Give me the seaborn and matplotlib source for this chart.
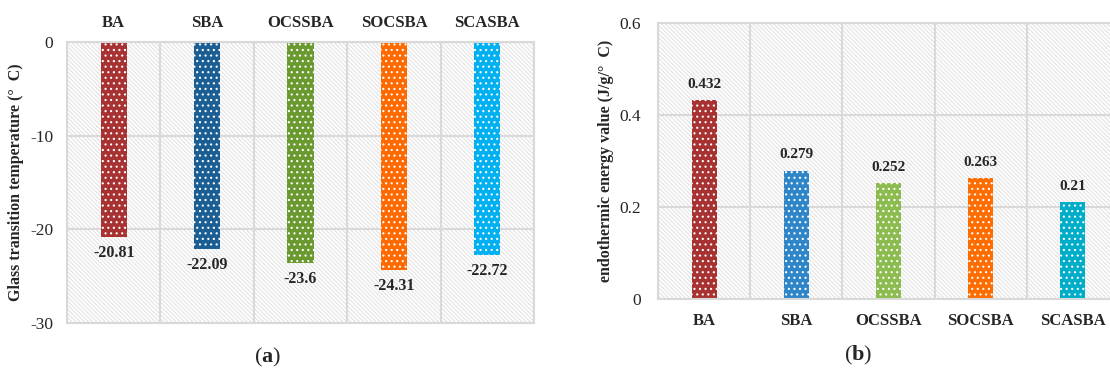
import matplotlib
matplotlib.use("Agg")
import matplotlib.pyplot as plt
import seaborn as sns
import pandas as pd
import numpy as np

samples = ["BA", "SBA", "OCSSBA", "SOCSBA", "SCASBA"]
tg_values = [-20.81, -22.09, -23.6, -24.31, -22.72]
tg_labels = ["-20.81", "-22.09", "-23.6", "-24.31", "-22.72"]
energy_values = [0.432, 0.279, 0.252, 0.263, 0.21]
energy_labels = ["0.432", "0.279", "0.252", "0.263", "0.21"]

colors_a = ["#a83232", "#1b5e94", "#6a9a2f", "#ff6a00", "#00b0f0"]
colors_b = ["#a83232", "#2e86c8", "#8cbc4f", "#ff6d00", "#00adc9"]

sns.set_style("white")
plt.rcParams["font.family"] = ["Liberation Serif", "DejaVu Serif"]
plt.rcParams["axes.unicode_minus"] = False
plt.rcParams["hatch.linewidth"] = 0.8
plt.rcParams["mathtext.fontset"] = "custom"
plt.rcParams["mathtext.bf"] = "Liberation Serif:bold"
plt.rcParams["mathtext.rm"] = "Liberation Serif"

GRID = "#d9d9d9"


def style_axes(ax):
    ax.patch.set_facecolor("white")
    ax.patch.set_hatch("\\\\\\\\\\\\\\\\")
    ax.patch.set_edgecolor("#e2e2e2")
    ax.set_xticks(np.arange(-0.5, 5, 1), minor=True)
    ax.grid(True, which="minor", axis="x", color=GRID, lw=1.5)
    ax.grid(True, which="major", axis="y", color=GRID, lw=1.5)
    ax.set_axisbelow(True)
    for s in ax.spines.values():
        s.set_color(GRID)
        s.set_linewidth(1.5)
    ax.tick_params(which="both", length=0)
    ax.set_xlim(-0.5, 4.5)
    ax.set_xlabel("")


def dot_bars(ax, colors):
    for p, c in zip(ax.patches, colors):
        p.set_facecolor(c)
        p.set_edgecolor("white")
        p.set_linewidth(0)
        p.set_hatch("...")


fig = plt.figure(figsize=(11.1, 3.72), dpi=100)

# (a) glass transition temperature
ax1 = fig.add_axes([0.0604, 0.1317, 0.4207, 0.7554])
df_a = pd.DataFrame({"sample": samples, "tg": tg_values})
sns.barplot(data=df_a, x="sample", y="tg", ax=ax1, width=0.28,
            hue="sample", palette=colors_a, legend=False, saturation=1)
dot_bars(ax1, colors_a)
style_axes(ax1)
ax1.set_ylim(-30, 0)
ax1.set_yticks([0, -10, -20, -30])
ax1.xaxis.tick_top()
ax1.set_xticks(range(5))
ax1.set_xticklabels(samples, fontsize=12, fontweight="bold")
ax1.tick_params(axis="x", pad=8)
ax1.tick_params(axis="y", labelsize=12.5, pad=10)
ax1.set_ylabel("Glass transition temperature (°  C)", fontsize=11.5, fontweight="bold", labelpad=4)
for i, (v, lab) in enumerate(zip(tg_values, tg_labels)):
    ax1.text(i, v - 0.9, lab, ha="center", va="top", fontsize=11.5, fontweight="bold")

# (b) endothermic energy
ax2 = fig.add_axes([0.5928, 0.1962, 0.4153, 0.742])
df_b = pd.DataFrame({"sample": samples, "energy": energy_values})
sns.barplot(data=df_b, x="sample", y="energy", ax=ax2, width=0.27,
            hue="sample", palette=colors_b, legend=False, saturation=1)
dot_bars(ax2, colors_b)
style_axes(ax2)
ax2.set_ylim(0, 0.6)
ax2.set_yticks([0, 0.2, 0.4, 0.6])
ax2.set_yticklabels(["0", "0.2", "0.4", "0.6"])
ax2.set_xticks(range(5))
ax2.set_xticklabels(samples, fontsize=12, fontweight="bold")
ax2.tick_params(axis="x", pad=10)
ax2.tick_params(axis="y", labelsize=12.5, pad=12)
ax2.set_ylabel("endothermic energy value (J/g/°  C)", fontsize=11.5, fontweight="bold", labelpad=4)
for i, (v, lab) in enumerate(zip(energy_values, energy_labels)):
    ax2.text(i, v + 0.02, lab, ha="center", va="bottom", fontsize=11, fontweight="bold")

fig.text(0.241, 0.038, r"($\mathbf{a}$)", ha="center", va="center", fontsize=16)
fig.text(0.773, 0.045, r"($\mathbf{b}$)", ha="center", va="center", fontsize=16)

fig.savefig("out.png", dpi=100)
